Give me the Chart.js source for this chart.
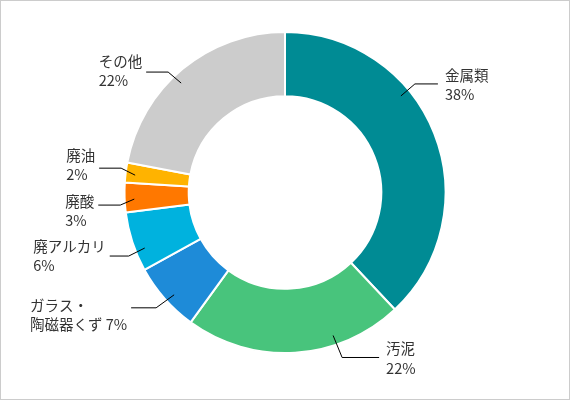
<!DOCTYPE html>
<html lang="ja">
<head>
    <meta charset="UTF-8">
    <title>Doughnut Chart</title>
    <script src="https://cdn.jsdelivr.net/npm/chart.js"></script>
</head>
<style>
    body { margin: 0; background: #fff; }
</style>
<body>
    <canvas id="wasteChart" width="570" height="400"></canvas>

    <script>
        // data
        const categories = ['金属類', '汚泥', 'ガラス・\n陶磁器くず', '廃アルカリ', '廃酸', '廃油', 'その他'];
        const shares = [38, 22, 7, 6, 3, 2, 22];
        const colors = ['#008b94', '#48c47c', '#1e8bd8', '#00b2de', '#ff7800', '#ffb300', '#cccccc'];

        // leader line layout: anchor angle (deg from top, clockwise), elbow offset, horizontal length, text offset
        const labelLayout = [
            { a: 50.2,  ex: 14,  ey: -12, len: 23, side: 'right', tdy: 1 },
            { a: 161.4, ex: 9,   ey: 22,  len: 37, side: 'right', tdy: 1 },
            { a: 227.3, ex: -18, ey: 13,  len: 25, side: 'left',  tdy: 7 },
            { a: 248.4, ex: -16, ey: 8,   len: 19, side: 'left',  tdy: 0 },
            { a: 267.5, ex: -14, ey: 6,   len: 22, side: 'left',  tdy: 6 },
            { a: 276.6, ex: -14, ey: -7,  len: 22, side: 'left',  tdy: -3 },
            { a: 316.5, ex: -13, ey: -11, len: 22, side: 'left',  tdy: -1 }
        ];

        const FONT = '14.5px "Noto Sans CJK JP", "Noto Sans", sans-serif';
        const LINE_H = 19.5;

        const labelPlugin = {
            id: 'outerLabels',
            afterDraw(chart) {
                const ctx = chart.ctx;
                const arc = chart.getDatasetMeta(0).data[0];
                const cx = arc.x, cy = arc.y, R = arc.outerRadius;

                ctx.save();
                // frame
                ctx.strokeStyle = '#cccccc';
                ctx.lineWidth = 1;
                ctx.strokeRect(0.5, 0.5, chart.width - 1, chart.height - 1);

                ctx.font = FONT;
                ctx.fillStyle = '#333333';
                ctx.textBaseline = 'middle';
                ctx.textAlign = 'left';

                categories.forEach((name, i) => {
                    const l = labelLayout[i];
                    const rad = l.a * Math.PI / 180;
                    const x0 = cx + Math.sin(rad) * R * 0.94;
                    const y0 = cy - Math.cos(rad) * R * 0.94;
                    const x1 = x0 + l.ex, y1 = y0 + l.ey;
                    const x2 = l.side === 'right' ? x1 + l.len : x1 - l.len;

                    ctx.strokeStyle = '#000';
                    ctx.lineWidth = 1;
                    ctx.beginPath();
                    ctx.moveTo(x0, y0);
                    ctx.lineTo(x1, y1);
                    ctx.lineTo(x2, y1);
                    ctx.stroke();

                    const text = name + (name.includes('\n') ? ' ' : '\n') + shares[i] + '%';
                    const lines = text.split('\n');
                    const w = Math.max(...lines.map(s => ctx.measureText(s).width));
                    const tx = l.side === 'right' ? x2 + 7 : x2 - 4 - w;
                    const top = y1 + l.tdy - (lines.length - 1) * LINE_H / 2;
                    lines.forEach((s, k) => ctx.fillText(s, tx, top + k * LINE_H));
                });
                ctx.restore();
            }
        };

        new Chart(document.getElementById('wasteChart'), {
            type: 'doughnut',
            data: {
                labels: categories,
                datasets: [{
                    data: shares,
                    backgroundColor: colors,
                    borderColor: '#ffffff',
                    borderWidth: 2
                }]
            },
            options: {
                responsive: false,
                animation: false,
                cutout: '60%',
                layout: { padding: { top: 31, bottom: 46 } },
                plugins: {
                    legend: { display: false },
                    tooltip: { enabled: false }
                }
            },
            plugins: [labelPlugin]
        });
    </script>
</body>
</html>
